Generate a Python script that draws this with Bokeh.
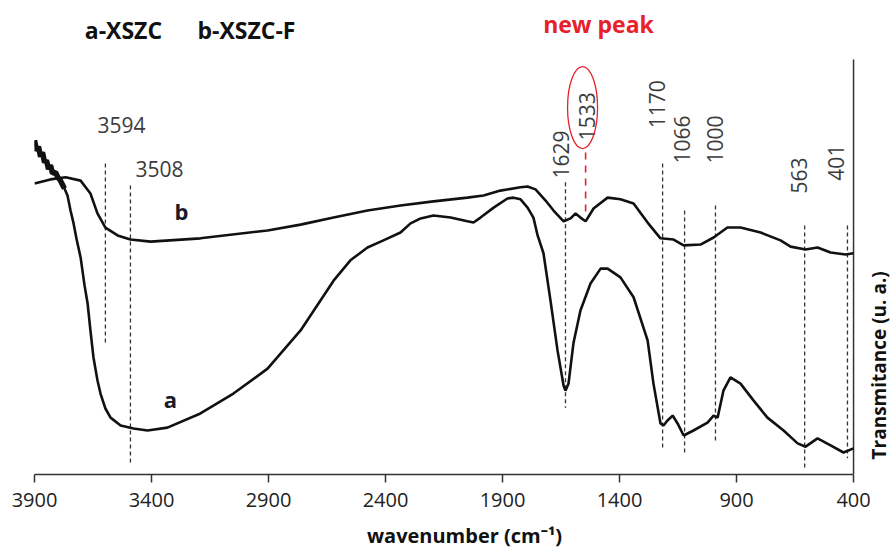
import math
from bokeh.plotting import figure
from bokeh.models import Range1d, FixedTicker, Label, ColumnDataSource
from bokeh.core.properties import value
from bokeh.embed import file_html
from bokeh.resources import INLINE

# ---- data (wavenumber in cm-1, transmittance in arbitrary units 0-100) ----
b_wavenumber = [3900, 3832, 3767, 3703, 3661, 3631, 3597, 3545, 3490, 3404, 3191, 2904, 2763, 2622,
                2477, 2336, 2195, 2050, 1981, 1909, 1823, 1793, 1759, 1716, 1682, 1639, 1609, 1588,
                1567, 1545, 1511, 1451, 1396, 1340, 1280, 1225, 1169, 1126, 1054, 998, 939, 883,
                797, 712, 669, 605, 554, 498, 434, 400]
b_transmittance = [70.1, 71.1, 71.6, 70.8, 67.7, 62.9, 59.5, 57.6, 56.6, 56.1, 56.9, 58.8, 60.2, 61.9,
                   63.6, 64.8, 65.8, 66.7, 67.2, 68.4, 69.2, 69.4, 68.7, 66.0, 63.6, 61.0, 61.7, 62.9,
                   61.9, 61.0, 64.1, 66.7, 66.3, 65.3, 60.7, 56.9, 56.6, 55.2, 55.4, 57.1, 59.5, 59.5,
                   58.3, 56.4, 54.9, 54.2, 54.7, 53.5, 53.0, 53.3]

a_wavenumber = [3900, 3891, 3883, 3874, 3866, 3857, 3849, 3840, 3832, 3823, 3810, 3800, 3789, 3772,
                3759, 3746, 3733, 3721, 3703, 3686, 3673, 3661, 3648, 3631, 3618, 3597, 3575, 3532,
                3477, 3417, 3332, 3191, 3050, 2904, 2763, 2678, 2622, 2550, 2477, 2409, 2336, 2293,
                2250, 2195, 2122, 2050, 2024, 1994, 1938, 1879, 1853, 1823, 1793, 1768, 1750, 1725,
                1695, 1665, 1639, 1631, 1618, 1597, 1567, 1524, 1481, 1451, 1396, 1340, 1280, 1255,
                1225, 1212, 1195, 1173, 1152, 1126, 1084, 1024, 998, 981, 956, 926, 883, 827, 768,
                699, 639, 605, 554, 498, 443, 400]
a_transmittance = [80.5, 78.0, 79.0, 76.6, 77.6, 75.2, 75.7, 73.6, 74.5, 72.6, 72.8, 71.6, 70.8, 68.9,
                   67.2, 63.6, 60.5, 56.9, 52.3, 45.5, 41.2, 34.7, 28.2, 22.7, 19.5, 15.9, 13.7, 11.8,
                   11.1, 10.6, 11.3, 14.7, 19.5, 25.5, 34.7, 41.9, 46.7, 51.6, 54.7, 56.4, 58.3, 60.5,
                   61.7, 62.4, 61.9, 61.0, 60.7, 61.9, 64.3, 66.5, 66.7, 66.3, 64.3, 61.9, 57.6, 53.3,
                   41.9, 29.9, 21.4, 20.2, 21.9, 31.6, 39.5, 46.0, 49.6, 49.6, 47.5, 42.7, 32.3, 21.9,
                   12.3, 11.8, 13.0, 14.2, 12.3, 9.4, 10.6, 12.5, 14.2, 13.7, 20.2, 23.4, 21.9, 17.8,
                   13.7, 10.6, 7.5, 6.7, 8.7, 7.0, 5.3, 6.3]

tick_values = [3900, 3400, 2900, 2400, 1900, 1400, 900, 400]

# peak marker lines (position) and their labels
peak_text = ["3594", "3508", "1629", "1533", "1170", "1066", "1000", "563", "401"]
peak_line_x = [3597, 3490, 1631, 1545, 1216, 1122, 990, 609, 426]
peak_line_top = [74.9, 69.6, 70.4, 77.6, 74.9, 63.6, 64.8, 60.0, 60.0]
peak_line_bottom = [31.6, 2.7, 16.1, 62.9, 6.5, 4.6, 8.2, 1.4, 3.9]
peak_label_x = [3528, 3366, 1652, 1541, 1238, 1131, 990, 635, 477]
peak_label_y = [84.1, 73.7, 71.3, 80.5, 83.4, 74.9, 74.9, 67.7, 70.8]

curve_label_text = ["a", "b"]
curve_label_x = [3319, 3272]
curve_label_y = [18.3, 63.6]

RED = "#e8202a"
INK = "#111111"
GREY = "#3c3c3c"
FONT = "Open Sans"

X_MIN, X_MAX = 400, 3900
p = figure(width=894, height=554, x_range=Range1d(3900, 225), y_range=Range1d(0, 114.2),
           output_backend="svg", toolbar_location=None, y_axis_location=None,
           min_border_left=34, min_border_right=0, min_border_top=0, min_border_bottom=80)
p.grid.visible = False
p.outline_line_color = None
p.background_fill_color = "white"
p.border_fill_color = "white"

ax = p.xaxis[0]
ax.ticker = FixedTicker(ticks=tick_values)
ax.bounds = (X_MIN, X_MAX)
ax.minor_tick_line_color = None
ax.major_tick_in = 0
ax.major_tick_out = 8
ax.major_tick_line_color = "#333333"
ax.major_tick_line_width = 1.5
ax.axis_line_color = "#333333"
ax.axis_line_width = 1.5
ax.major_label_text_font = FONT
ax.major_label_text_font_size = "20px"
ax.major_label_text_color = "#222222"
ax.major_label_standoff = 10
ax.axis_label = "wavenumber (cm\u207b\u00b9)"
ax.axis_label_text_font = FONT
ax.axis_label_text_font_size = "20px"
ax.axis_label_text_font_style = "bold"
ax.axis_label_text_color = "#111111"
ax.axis_label_standoff = 12

# right spine of the data area
p.segment(x0=[X_MIN], y0=[0], x1=[X_MIN], y1=[100], line_color="#333333", line_width=1.5)

# peak marker lines
lines_src = ColumnDataSource(dict(x=peak_line_x[:3] + peak_line_x[4:], top=peak_line_top[:3] + peak_line_top[4:],
                                  bot=peak_line_bottom[:3] + peak_line_bottom[4:]))
p.segment(x0="x", y0="top", x1="x", y1="bot", source=lines_src, line_color="#333333",
          line_width=1.3, line_dash="4 3")
p.segment(x0=[peak_line_x[3]], y0=[peak_line_top[3]], x1=[peak_line_x[3]], y1=[peak_line_bottom[3]],
          line_color=RED, line_width=1.6, line_dash="7 6")

# curves
p.line(b_wavenumber, b_transmittance, line_color=INK, line_width=2.6)
p.line(a_wavenumber, a_transmittance, line_color=INK, line_width=2.6)
p.line(a_wavenumber[:14], a_transmittance[:14], line_color=INK, line_width=5.5)

# horizontal peak labels
p.text(x=peak_label_x[:2], y=peak_label_y[:2], text=peak_text[:2], text_font=value(FONT),
       text_font_size="21px", text_color=GREY, text_align="center", text_baseline="middle")
# vertical peak labels
p.text(x=peak_label_x[2:], y=peak_label_y[2:], text=peak_text[2:], angle=math.pi / 2,
       text_font=value(FONT), text_font_size="21px", text_color=GREY,
       text_align="left", text_baseline="middle")

# ellipse around the new peak
p.ellipse(x=[1558], y=[88.4], width=30, height=82, width_units="screen", height_units="screen",
          fill_color=None, line_color=RED, line_width=1.3)

# curve labels
p.text(x=curve_label_x, y=curve_label_y, text=curve_label_text, text_font=value(FONT),
       text_font_size="22px", text_font_style="bold", text_color="#1a1a2a",
       text_align="center", text_baseline="middle")

# top legend-like texts
for txt, xx, yy, col in [("a-XSZC", 3520, 107.2, INK), ("b-XSZC-F", 2994, 107.2, INK),
                         ("new peak", 1490, 108.6, RED)]:
    p.add_layout(Label(x=xx, y=yy, text=txt, text_font=FONT,
                       text_font_size="23px", text_font_style="bold", text_color=col,
                       text_align="center", text_baseline="middle"))

# y-axis title on the right
p.add_layout(Label(x=293, y=26.3, text="Transmitance (u. a.)", angle=math.pi / 2,
                   text_font=FONT, text_font_size="19px", text_font_style="bold",
                   text_color=INK, text_align="center", text_baseline="middle"))

open("out.html", "w").write(file_html(p, INLINE))
